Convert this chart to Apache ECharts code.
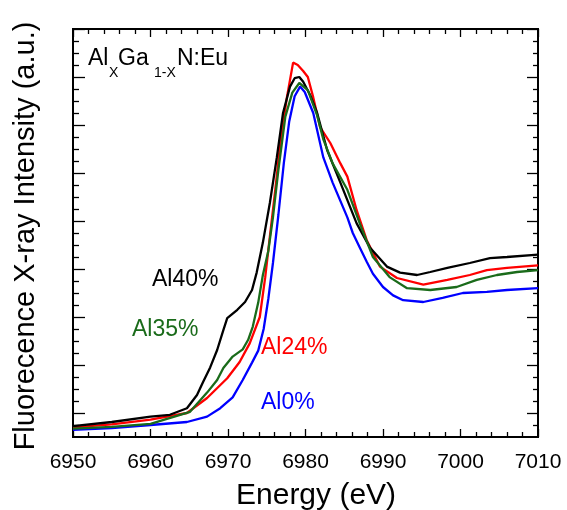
<!DOCTYPE html>
<html>
<head>
<meta charset="utf-8">
<script src="https://cdn.jsdelivr.net/npm/echarts@6/dist/echarts.min.js"></script>
<style>html,body{margin:0;padding:0;background:#fff}#c{width:567px;height:510px}</style>
</head>
<body>
<div id="c"></div>
<script>
// ---- Data (energy in eV, intensity in arbitrary units) ----
var xTicks = [6950, 6960, 6970, 6980, 6990, 7000, 7010];
var xMinorTicks = [6952, 6954, 6956, 6958, 6962, 6964, 6966, 6968, 6972, 6974, 6976, 6978, 6982, 6984, 6986, 6988, 6992, 6994, 6996, 6998, 7002, 7004, 7006, 7008];
var yMajorTicks = [2, 6, 10, 14, 18, 22, 26, 30, 34];
var yMinorTicks = [1, 3, 4, 5, 7, 8, 9, 11, 12, 13, 15, 16, 17, 19, 20, 21, 23, 24, 25, 27, 28, 29, 31, 32, 33];

var eAl40 = [6950, 6955, 6960, 6962.5, 6964.7, 6966.0, 6966.8, 6967.7, 6968.6, 6969.4, 6969.9, 6971.2, 6972.2, 6973.1, 6973.7, 6974.5, 6975.4, 6976.3, 6977.1, 6978.0, 6978.6, 6979.2, 6979.7, 6980.6, 6981.5, 6982.8, 6984.5, 6986.6, 6988.3, 6990.5, 6992.2, 6994.4, 6996.1, 6998.3, 7001.2, 7003.8, 7006.0, 7010];
var iAl40 = [0.9, 1.25, 1.7, 1.85, 2.4, 3.5, 4.6, 5.8, 7.25, 8.9, 9.9, 10.6, 11.25, 12.25, 13.7, 16.2, 19.5, 23.3, 27.0, 29.2, 29.9, 30.0, 29.6, 28.5, 27.0, 23.9, 21.2, 17.8, 15.8, 14.2, 13.7, 13.5, 13.75, 14.1, 14.5, 14.9, 15.0, 15.2];

var eAl24 = [6950, 6955, 6960, 6964.7, 6967.3, 6969.9, 6971.5, 6972.8, 6974.1, 6974.8, 6975.4, 6976.1, 6976.7, 6977.6, 6978.4, 6979.0, 6979.7, 6980.3, 6981.0, 6981.9, 6983.2, 6984.5, 6985.4, 6986.6, 6987.9, 6989.6, 6991.8, 6995.2, 6998.3, 7001.2, 7003.4, 7006.0, 7010];
var iAl24 = [0.8, 1.05, 1.45, 2.0, 3.25, 4.9, 6.25, 7.8, 10.0, 13.3, 16.7, 20.6, 24.2, 28.3, 31.2, 31.0, 30.5, 30.0, 28.3, 25.8, 24.5, 22.8, 21.7, 18.9, 16.4, 14.2, 13.25, 12.7, 13.1, 13.5, 13.9, 14.1, 14.3];

var eAl35 = [6950, 6955, 6960, 6965.1, 6967.3, 6968.6, 6969.4, 6970.6, 6971.9, 6972.6, 6973.2, 6973.9, 6974.5, 6975.2, 6975.8, 6976.5, 6977.4, 6978.3, 6979.2, 6980.3, 6981.5, 6982.3, 6983.5, 6985.4, 6987.0, 6988.7, 6990.9, 6993.1, 6996.1, 6999.5, 7002.1, 7004.7, 7007.3, 7010];
var iAl35 = [0.7, 0.85, 1.1, 2.1, 3.7, 4.75, 5.75, 6.7, 7.3, 8.1, 9.2, 11.2, 13.5, 15.5, 18.3, 22.25, 26.7, 28.7, 29.5, 28.9, 26.8, 24.8, 22.8, 20.6, 17.8, 15.0, 13.3, 12.4, 12.25, 12.5, 13.1, 13.5, 13.75, 13.9];

var eAl0 = [6950, 6955, 6960, 6964.7, 6967.3, 6969.0, 6970.6, 6971.9, 6973.1, 6973.9, 6974.6, 6975.2, 6975.8, 6976.5, 6977.2, 6977.9, 6978.6, 6979.3, 6979.9, 6981.0, 6982.3, 6983.5, 6985.4, 6986.1, 6987.0, 6987.9, 6988.7, 6990.0, 6991.3, 6992.6, 6995.2, 6997.7, 7000.3, 7003.4, 7006.0, 7010];
var iAl0 = [0.6, 0.75, 1.0, 1.25, 1.7, 2.4, 3.3, 4.75, 6.2, 7.2, 9.0, 11.5, 14.5, 18.5, 22.8, 26.3, 28.4, 29.2, 28.75, 27.0, 23.3, 21.2, 18.3, 17.0, 15.8, 14.6, 13.6, 12.5, 11.8, 11.4, 11.25, 11.6, 12.0, 12.1, 12.25, 12.4];

var seriesNames = ['Al0%', 'Al24%', 'Al40%', 'Al35%'];

function pairs(xs, ys) { return xs.map(function (x, i) { return [x, ys[i]]; }); }

var FONT = '"Liberation Sans", Arial, sans-serif';
var chart = echarts.init(document.getElementById('c'), null, { renderer: 'canvas' });

function xAx(grid, pos, showLabel, ticks, len) {
  return {
    type: 'value', gridIndex: grid, position: pos, min: 6950, max: 7010, interval: 10,
    axisLine: { show: true, onZero: false, lineStyle: { color: '#000', width: 2 } },
    axisTick: { show: true, inside: true, length: len, customValues: ticks, lineStyle: { color: '#000', width: 1.3 } },
    axisLabel: { show: showLabel, fontSize: 21, color: '#000', fontFamily: FONT, margin: 15,
                 customValues: xTicks, formatter: function (v) { return String(v); } },
    splitLine: { show: false }
  };
}
function yAx(grid, pos, ticks, len) {
  return {
    type: 'value', gridIndex: grid, position: pos, min: 0, max: 34, interval: 2,
    axisLine: { show: true, onZero: false, lineStyle: { color: '#000', width: 2 } },
    axisTick: { show: true, inside: true, length: len, customValues: ticks, lineStyle: { color: '#000', width: 1.3 } },
    axisLabel: { show: false },
    splitLine: { show: false }
  };
}

var colors = { 'Al0%': '#0000ff', 'Al24%': '#ff0000', 'Al40%': '#000000', 'Al35%': '#1a6b1a' };
var dataMap = {
  'Al0%': pairs(eAl0, iAl0),
  'Al24%': pairs(eAl24, iAl24),
  'Al40%': pairs(eAl40, iAl40),
  'Al35%': pairs(eAl35, iAl35)
};

var g = { left: 73, right: 29, top: 29, bottom: 73, containLabel: false };

chart.setOption({
  animation: false,
  backgroundColor: '#fff',
  grid: [g, g],
  xAxis: [
    xAx(0, 'bottom', true, xTicks, 8),
    xAx(0, 'top', false, xTicks, 8),
    xAx(1, 'bottom', false, xMinorTicks, 5),
    xAx(1, 'top', false, xMinorTicks, 5)
  ],
  yAxis: [
    yAx(0, 'left', yMajorTicks, 12),
    yAx(0, 'right', yMajorTicks, 11),
    yAx(1, 'left', yMinorTicks, 6),
    yAx(1, 'right', yMinorTicks, 5)
  ],
  series: seriesNames.map(function (n) {
    return {
      name: n, type: 'line', xAxisIndex: 0, yAxisIndex: 0, data: dataMap[n],
      symbol: 'none', smooth: false,
      lineStyle: { color: colors[n], width: 2.3 }
    };
  }),
  graphic: [
    { type: 'text', left: 88, top: 47, style: { text: 'Al', font: '23px ' + FONT, fill: '#000' } },
    { type: 'text', left: 109, top: 66, style: { text: 'X', font: '14px ' + FONT, fill: '#000' } },
    { type: 'text', left: 118, top: 47, style: { text: 'Ga', font: '23px ' + FONT, fill: '#000' } },
    { type: 'text', left: 154, top: 66, style: { text: '1-X', font: '14px ' + FONT, fill: '#000' } },
    { type: 'text', left: 177, top: 47, style: { text: 'N:Eu', font: '23px ' + FONT, fill: '#000' } },
    { type: 'text', left: 152, top: 268, style: { text: 'Al40%', font: '23px ' + FONT, fill: '#000' } },
    { type: 'text', left: 132, top: 318, style: { text: 'Al35%', font: '23px ' + FONT, fill: '#1a6b1a' } },
    { type: 'text', left: 261, top: 336, style: { text: 'Al24%', font: '23px ' + FONT, fill: '#ff0000' } },
    { type: 'text', left: 261, top: 391, style: { text: 'Al0%', font: '23px ' + FONT, fill: '#0000ff' } },
    { type: 'text', left: 236, top: 481, style: { text: 'Energy (eV)', font: '30px ' + FONT, fill: '#000' } },
    { type: 'text', x: 26, y: 236, rotation: Math.PI / 2,
      style: { text: 'Fluorecence X-ray Intensity (a.u.)', font: '29px ' + FONT, fill: '#000', align: 'center', verticalAlign: 'middle' } }
  ]
});
</script>
</body>
</html>
